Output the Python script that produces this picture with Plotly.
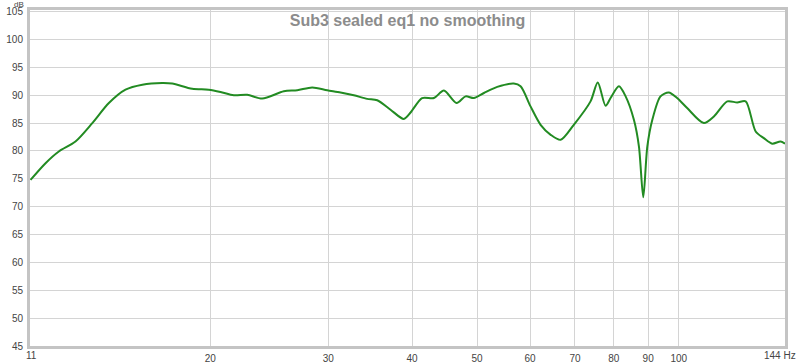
import plotly.graph_objects as go
import math

title_text = "Sub3 sealed eq1 no smoothing"

freq_hz = [10.79, 11.36, 11.89, 12.59, 13.34, 14.12, 14.95, 15.84, 16.96, 17.55,
           18.80, 19.90, 20.72, 21.69, 22.71, 23.91, 25.75, 26.97, 28.39, 29.89,
           31.29, 32.75, 34.29, 35.49, 37.15, 38.89, 39.80, 41.4, 43.12, 44.63,
           46.61, 48.08, 49.46, 51.2, 53.60, 56.75, 58.07, 60.09, 62.2, 64.4,
           66.63, 69.72, 73.84, 75.7, 77.76, 79.1, 81.4, 83.3, 85.7, 87.2,
           88.5, 89.74, 91.3, 93.9, 96.6, 99.4, 102.9, 108.97, 112.8, 118.1,
           122.2, 125.8, 130.2, 133.9, 137.8, 141.8, 144.0]
spl_db = [74.8, 77.8, 79.9, 81.7, 85.0, 88.6, 91.0, 91.9, 92.2, 92.1,
          91.15, 91.0, 90.6, 90.0, 90.07, 89.4, 90.7, 90.9, 91.4, 90.9,
          90.5, 90.0, 89.35, 89.1, 87.4, 85.75, 86.9, 89.5, 89.5, 90.85,
          88.6, 89.8, 89.5, 90.4, 91.5, 92.1, 91.6, 88.0, 84.7, 82.9,
          82.0, 84.7, 88.9, 92.3, 88.1, 89.5, 91.6, 89.8, 85.6, 80.8,
          71.7, 80.8, 85.6, 89.8, 90.5, 89.5, 87.7, 85.0, 86.2, 88.9,
          88.7, 88.9, 83.5, 82.3, 81.3, 81.7, 81.3]

x_ticks = [20, 30, 40, 50, 60, 70, 80, 90, 100]
x_ticktext = ["20", "30", "40", "50", "60", "70", "80", "90", "100"]
y_ticks = [45, 50, 55, 60, 65, 70, 75, 80, 85, 90, 95, 100, 105]
x_range = [10.77, 144.0]
y_range = [45, 105.3]
x_start_label = "11"
x_end_label = "144 Hz"
y_unit_label = "dB"

fig = go.Figure()
fig.add_trace(go.Scatter(
    x=freq_hz, y=spl_db, mode="lines",
    line=dict(color="#228b22", width=2, shape="spline", smoothing=0.8),
    hoverinfo="skip", showlegend=False,
))

tick_font = dict(family="Liberation Sans, Arial, sans-serif", size=10, color="#444444")
unit_font = dict(family="Liberation Sans, Arial, sans-serif", size=8, color="#444444")

fig.update_layout(
    width=800, height=363,
    margin=dict(l=30, r=15, t=10, b=17, autoexpand=False),
    paper_bgcolor="white", plot_bgcolor="white",
    title=dict(text=title_text, x=0.5, xanchor="center", y=1 - 20 / 363, yanchor="middle",
               xref="paper",
               font=dict(family="Liberation Sans, Arial, sans-serif", size=16,
                         color="#8c8c8c", weight="bold")),
    xaxis=dict(type="log", range=[math.log10(x_range[0]), math.log10(x_range[1])],
               tickvals=x_ticks, ticktext=x_ticktext, showgrid=True, automargin=False,
               gridcolor="#d4d4d4", gridwidth=1, zeroline=False,
               showline=True, linecolor="#c4c4c4", linewidth=3, mirror=True,
               ticks="", tickfont=tick_font, ticklabelstandoff=1),
    yaxis=dict(range=y_range, tickvals=y_ticks, showgrid=True, automargin=False,
               gridcolor="#d4d4d4", gridwidth=1, zeroline=False,
               showline=True, linecolor="#c4c4c4", linewidth=3, mirror=True,
               ticks="", tickfont=tick_font, ticklabelstandoff=2),
    annotations=[
        dict(text=y_unit_label, xref="paper", yref="paper", x=-11 / 755, y=(336 + 6) / 336,
             xanchor="center", yanchor="middle", showarrow=False, font=unit_font,
             borderpad=0),
        dict(text=x_start_label, xref="paper", yref="paper", x=1.5 / 755, y=-10 / 336,
             xanchor="center", yanchor="middle", showarrow=False, font=tick_font),
        dict(text=x_end_label, xref="paper", yref="paper", x=1.0, xshift=13, y=-10 / 336,
             xanchor="right", yanchor="middle", showarrow=False, font=tick_font),
    ],
)

fig.write_html("out.html")
